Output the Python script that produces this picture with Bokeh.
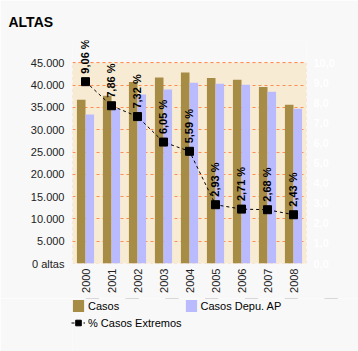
import math
from bokeh.plotting import figure
from bokeh.layouts import column
from bokeh.models import (ColumnDataSource, FactorRange, Range1d, LinearAxis, FixedTicker,
                          Legend, LegendItem, LabelSet, BoxAnnotation)
from bokeh.core.properties import value
from bokeh.transform import dodge
from bokeh.embed import file_html
from bokeh.resources import INLINE

years = ["2000", "2001", "2002", "2003", "2004", "2005", "2006", "2007", "2008"]
casos = [36700, 37600, 40700, 41700, 42800, 41600, 41200, 39600, 35600]
casos_depu = [33400, 34700, 37900, 39000, 40500, 40300, 40100, 38500, 34700]
pct_extremos = [9.06, 7.86, 7.32, 6.05, 5.59, 2.93, 2.71, 2.68, 2.43]
pct_labels = ["9,06 %", "7,86 %", "7,32 %", "6,05 %", "5,59 %", "2,93 %", "2,71 %", "2,68 %", "2,43 %"]
left_ticks = [0, 5000, 10000, 15000, 20000, 25000, 30000, 35000, 40000, 45000]
left_tick_labels = ["0 altas", "5.000", "10.000", "15.000", "20.000", "25.000", "30.000", "35.000", "40.000", "45.000"]
right_ticks = [0, 1, 2, 3, 4, 5, 6, 7, 8, 9, 10]
right_tick_labels = ["0,0", "1,0", "2,0", "3,0", "4,0", "5,0", "6,0", "7,0", "8,0", "9,0", "10,0"]

src = ColumnDataSource(data=dict(years=years, casos=casos, depu=casos_depu,
                                 pct=pct_extremos, lbl=pct_labels))

FONT = "Liberation Sans"
ORANGE = "#FF8C50"
BG = "#F8F8F8"
BROWN = "#A68C45"
LAVENDER = "#BABAFF"

# frame extends above the 45.000 line so the rotated labels are not clipped
Y_TOP = 50000
P_TOP = Y_TOP / 4500.0

p = figure(frame_width=234, frame_height=223,
           x_range=FactorRange(*years, range_padding=0),
           y_range=Range1d(0, Y_TOP), output_backend="svg", toolbar_location=None,
           title="ALTAS", min_border_left=72, min_border_right=52,
           min_border_top=40, min_border_bottom=35)
p.extra_y_ranges = {"pct": Range1d(0, P_TOP)}

p.background_fill_color = BG
p.border_fill_color = BG
p.outline_line_color = None

p.title.text_font = FONT
p.title.text_font_size = "14px"
p.title.text_font_style = "bold"
p.title.text_color = "#000000"
p.title.offset = -64
p.title.standoff = 22

area = BoxAnnotation(bottom=0, top=45000, fill_color="#F8EBD3", fill_alpha=1,
                     line_color=ORANGE, line_dash="3 3", line_width=1, level="image")
p.add_layout(area)

r1 = p.vbar(x=dodge("years", -0.165, range=p.x_range), top="casos", width=0.33,
            source=src, fill_color=BROWN, line_color=None)
r2 = p.vbar(x=dodge("years", 0.165, range=p.x_range), top="depu", width=0.33,
            source=src, fill_color=LAVENDER, line_color=None)
rl = p.line(x="years", y="pct", source=src, y_range_name="pct", line_color="black",
            line_dash="3 3", line_width=1)
rs = p.scatter(x="years", y="pct", source=src, y_range_name="pct", marker="square",
               size=8, fill_color="black", line_color="black")

labels = LabelSet(x="years", y="pct", text="lbl", source=src, y_range_name="pct",
                  angle=math.pi / 2, text_align="left", text_baseline="middle",
                  x_offset=0, y_offset=8, text_font=value(FONT), text_font_size="11px",
                  text_font_style="bold", text_color="black")
p.add_layout(labels)

# grid
p.xgrid.grid_line_color = None
p.ygrid.ticker = FixedTicker(ticks=left_ticks)
p.ygrid.grid_line_color = ORANGE
p.ygrid.grid_line_dash = "3 3"
p.ygrid.level = "underlay"


def plain_axis(ax, standoff):
    ax.axis_line_color = None
    ax.major_tick_line_color = None
    ax.minor_tick_line_color = None
    ax.major_tick_out = 0
    ax.major_tick_in = 0
    ax.minor_tick_out = 0
    ax.minor_tick_in = 0
    ax.major_label_standoff = standoff
    ax.major_label_text_font = FONT
    ax.major_label_text_font_size = "11px"


# left axis
ya = p.yaxis[0]
ya.ticker = FixedTicker(ticks=left_ticks)
ya.major_label_overrides = {t: l for t, l in zip(left_ticks, left_tick_labels)}
plain_axis(ya, 8)
ya.major_label_text_color = "#222222"

# right axis
ra = LinearAxis(y_range_name="pct", ticker=FixedTicker(ticks=right_ticks))
ra.major_label_overrides = {t: l for t, l in zip(right_ticks, right_tick_labels)}
plain_axis(ra, 7)
ra.major_label_text_font_style = "bold"
ra.major_label_text_color = "#FFFFFF"
p.add_layout(ra, "right")

# x axis
xa = p.xaxis[0]
xa.major_label_orientation = math.pi / 2
plain_axis(xa, 5)
xa.major_label_text_color = "#222222"

# legend strip below the chart (same data, drawn out of view so only the legend shows)
p2 = figure(frame_width=358, frame_height=53,
            x_range=FactorRange(*years, range_padding=0), y_range=Range1d(-200000, -100000),
            x_axis_type=None, y_axis_type=None, output_backend="svg", toolbar_location=None,
            min_border_left=0, min_border_right=0, min_border_top=0, min_border_bottom=0)
p2.extra_y_ranges = {"pct": Range1d(-200, -100)}
p2.background_fill_color = BG
p2.border_fill_color = BG
p2.outline_line_color = None
p2.grid.visible = False

d1 = p2.vbar(x="years", top="casos", width=0.33, source=src, fill_color=BROWN, line_color=None)
d2 = p2.vbar(x="years", top="depu", width=0.33, source=src, fill_color=LAVENDER, line_color=None)
dl = p2.line(x="years", y="pct", source=src, y_range_name="pct", line_color="black",
             line_dash="3 3", line_width=1)
ds = p2.scatter(x="years", y="pct", source=src, y_range_name="pct", marker="square",
                size=8, fill_color="black", line_color="black")

legend = Legend(items=[
    LegendItem(label="Casos", renderers=[d1]),
    LegendItem(label="% Casos Extremos", renderers=[dl, ds]),
    LegendItem(label="Casos Depu. AP", renderers=[d2]),
], ncols=2, location=(71, 21), padding=0, margin=0, spacing=2,
    glyph_width=14, glyph_height=15, label_standoff=3, label_height=15,
    label_text_font=FONT, label_text_font_size="11px", label_text_color="#000000",
    background_fill_alpha=0, border_line_color=None)
p2.add_layout(legend, "center")

layout = column(p, p2, spacing=0)
open("out.html", "w").write(file_html(layout, INLINE))
